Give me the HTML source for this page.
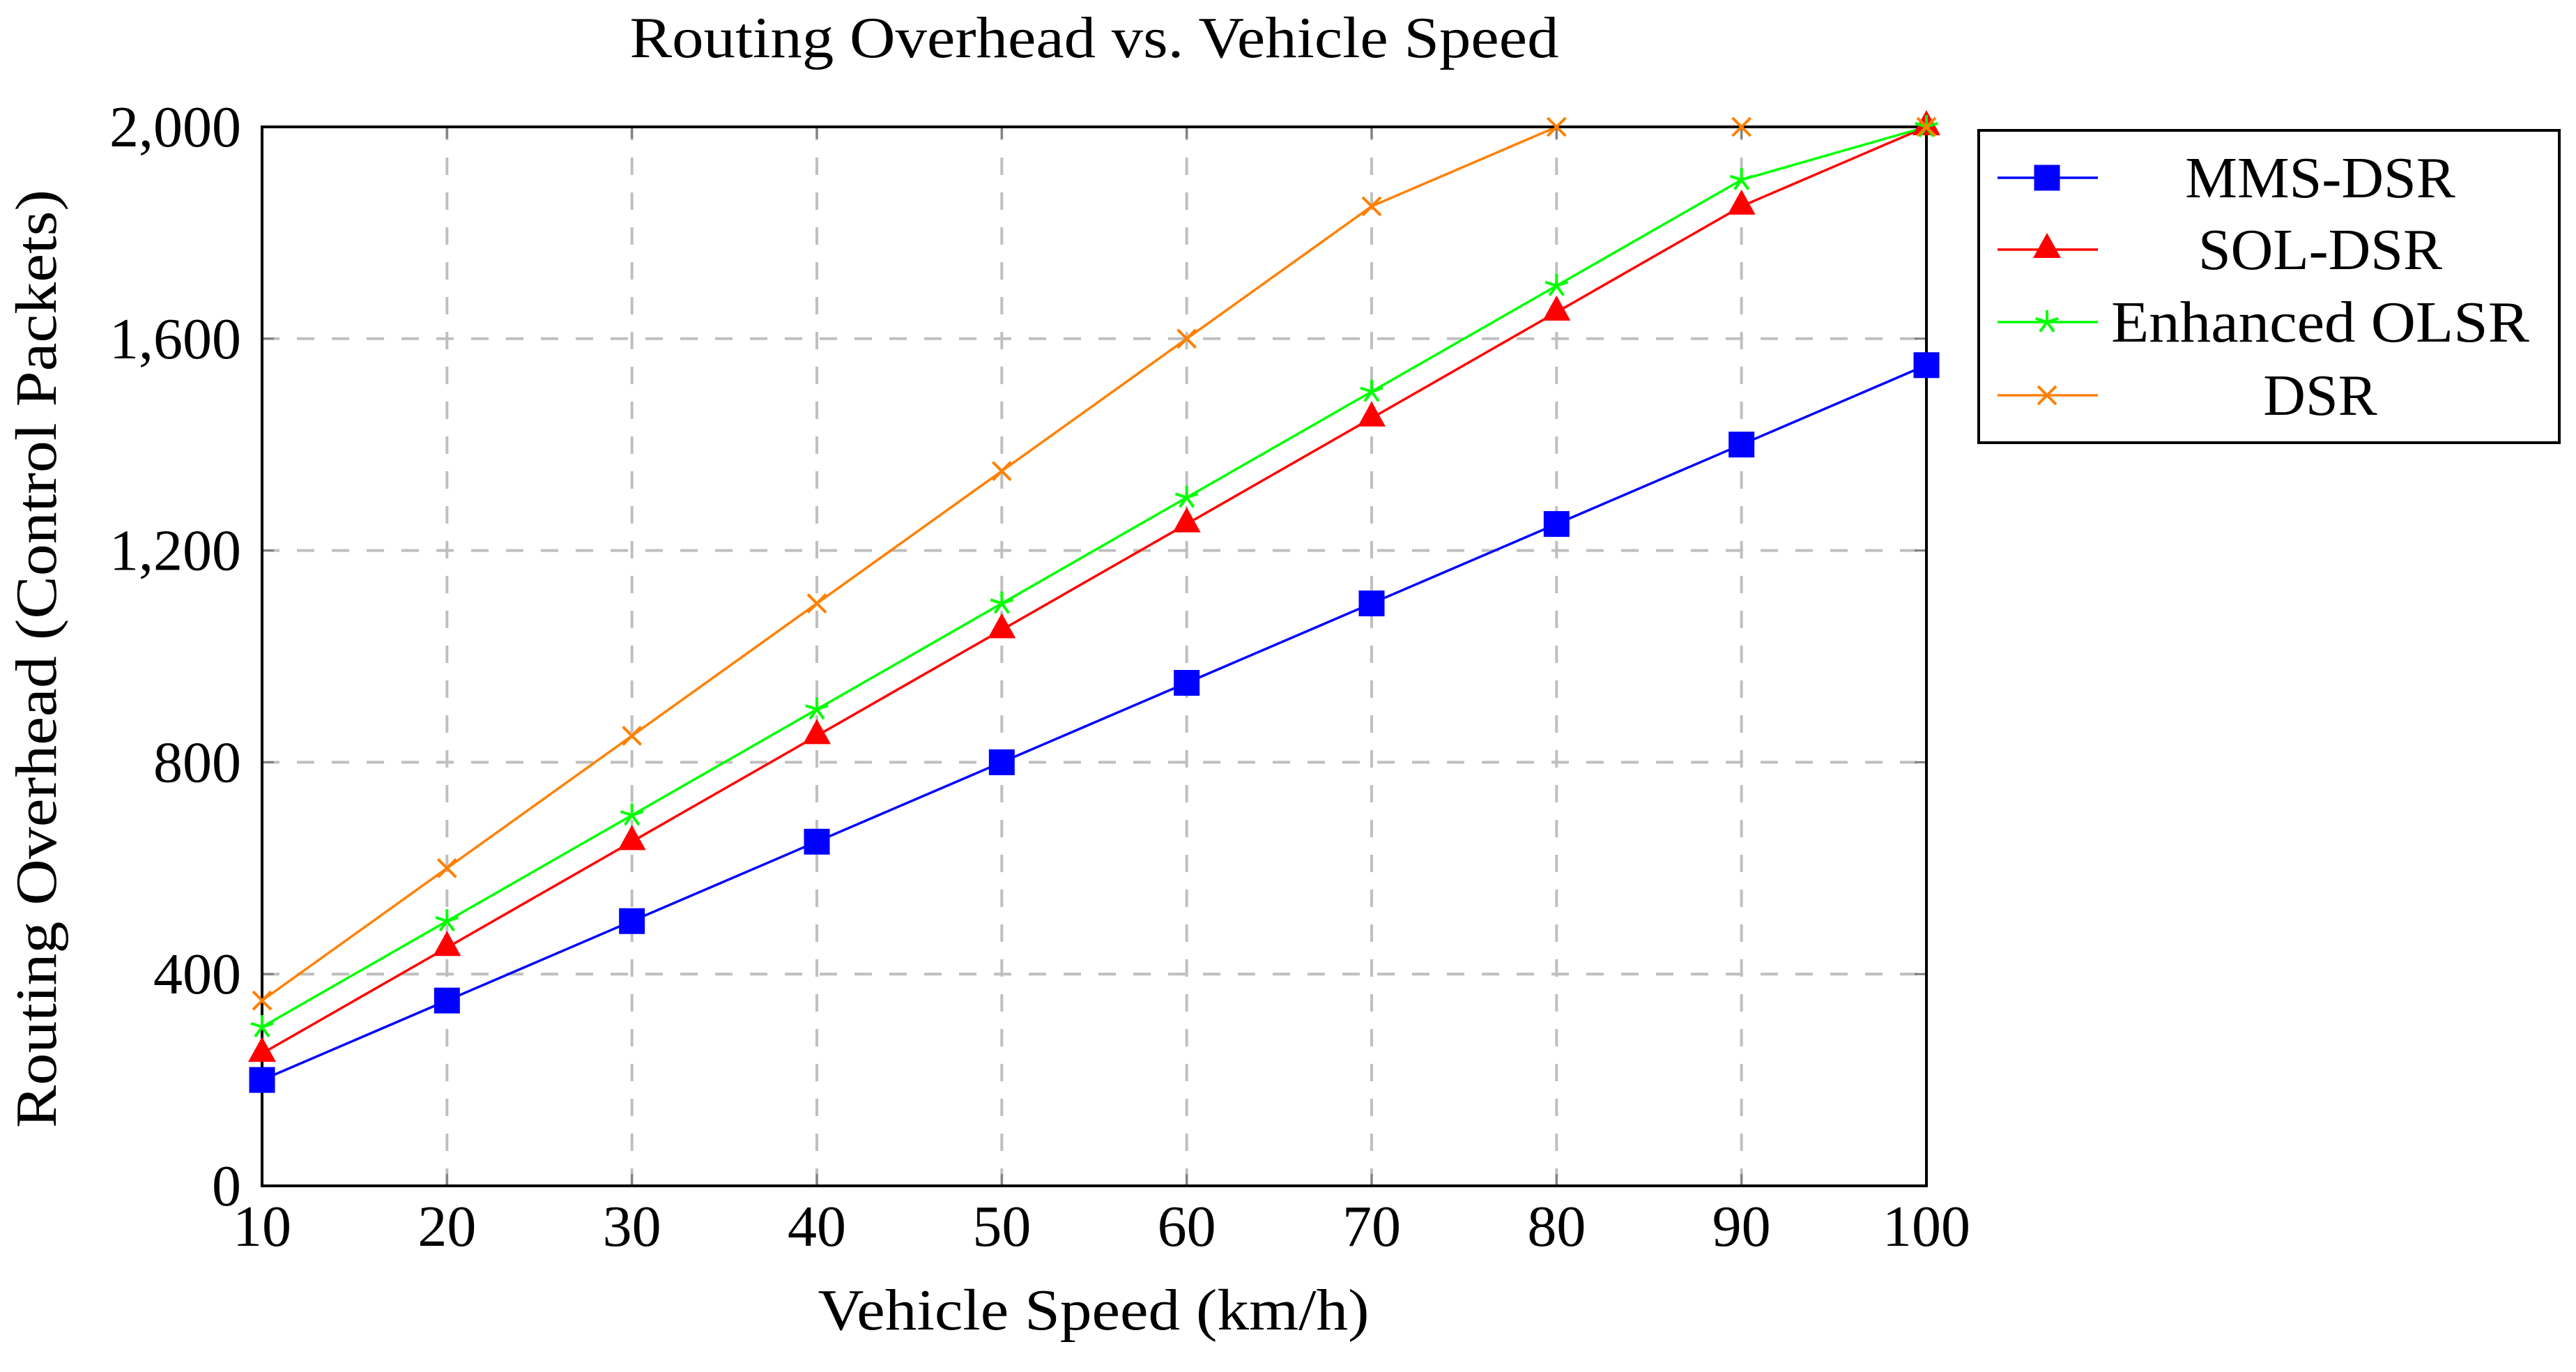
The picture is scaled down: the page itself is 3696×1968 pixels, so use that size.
<!DOCTYPE html>
<html><head><meta charset="utf-8"><style>
html,body{margin:0;padding:0;background:#fff;}
svg{display:block;}
text{font-family:"Liberation Serif",serif;fill:#000;}
</style></head><body>
<svg id="chart" width="3696" height="1968" viewBox="0 0 3696 1968" xmlns="http://www.w3.org/2000/svg">
<text x="1570" y="82" font-size="84" text-anchor="middle" textLength="1333" lengthAdjust="spacingAndGlyphs">Routing Overhead vs. Vehicle Speed</text>
<text x="1569" y="1907" font-size="84" text-anchor="middle" textLength="791" lengthAdjust="spacingAndGlyphs">Vehicle Speed (km/h)</text>
<text transform="translate(80,945) rotate(-90)" x="0" y="0" font-size="84" text-anchor="middle" textLength="1346" lengthAdjust="spacingAndGlyphs">Routing Overhead (Control Packets)</text>
<g id="grid"></g>
<g id="ticks"></g>
<g id="series"></g>
<rect x="376" y="182" width="2388" height="1519" fill="none" stroke="#000" stroke-width="4"/>
<g id="markers"></g>
<g id="legend">
<rect x="2839" y="187" width="833" height="448" fill="#fff" stroke="#000" stroke-width="4"/>
</g>
</svg>
<script>
const categories = [10,20,30,40,50,60,70,80,90,100];
const mmsDsr = [200,350,500,650,800,950,1100,1250,1400,1550];
const solDsr = [250,450,650,850,1050,1250,1450,1650,1850,2000];
const enhancedOlsr = [300,500,700,900,1100,1300,1500,1700,1900,2000];
const dsr = [350,600,850,1100,1350,1600,1850,2000,2000,2000];
const seriesNames = ["MMS-DSR","SOL-DSR","Enhanced OLSR","DSR"];
const xTicks = [10,20,30,40,50,60,70,80,90,100];
const yTicks = [0,400,800,1200,1600,2000];
const yTickLabels = ["0","400","800","1,200","1,600","2,000"];

const NS="http://www.w3.org/2000/svg";
const X0=376,X1=2764,Y0=1701,Y1=182;
function xs(v){return X0+(v-10)/(100-10)*(X1-X0);}
function ys(v){return Y0-(v/2000)*(Y0-Y1);}
function mk(tag,attrs,parent){const e=document.createElementNS(NS,tag);for(const k in attrs)e.setAttribute(k,attrs[k]);parent.appendChild(e);return e;}

const grid=document.getElementById('grid'), ticks=document.getElementById('ticks');
xTicks.forEach((t,i)=>{
  const x=xs(t);
  const g=mk('line',{x1:x,x2:x,y1:Y0,y2:Y1,stroke:'#bfbfbf','stroke-width':4,'stroke-dasharray':'25 25'},grid);
  
  
  const tk=mk('line',{x1:x,x2:x,y1:Y0,y2:Y0-17,stroke:'#808080','stroke-width':3},ticks);
  
  
  const tk2=mk('line',{x1:x,x2:x,y1:Y1,y2:Y1+17,stroke:'#808080','stroke-width':3},ticks);
  
  
  const lb=mk('text',{x:x,y:1787,'font-size':84,'text-anchor':'middle'},ticks);
  lb.textContent=String(t);
  
  
});
yTicks.forEach((t,i)=>{
  const y=ys(t);
  const g=mk('line',{x1:X0,x2:X1,y1:y,y2:y,stroke:'#bfbfbf','stroke-width':4,'stroke-dasharray':'25 25'},grid);
  
  
  const tk=mk('line',{x1:X0,x2:X0+17,y1:y,y2:y,stroke:'#808080','stroke-width':3},ticks);
  
  
  const tk2=mk('line',{x1:X1,x2:X1-17,y1:y,y2:y,stroke:'#808080','stroke-width':3},ticks);
  
  
  const lb=mk('text',{x:346,y:y+28,'font-size':84,'text-anchor':'end'},ticks);
  lb.textContent=yTickLabels[i];
  
  
});

const colors=['#0000ff','#ff0000','#00ff00','#ff8000'];
const shapes=['square','triangle','star','cross'];
const allSeries=[mmsDsr,solDsr,enhancedOlsr,dsr];

function marker(shape,x,y,color,parent){
  let e;
  if(shape==='square'){
    e=mk('rect',{x:x-18.5,y:y-18.5,width:37,height:37,fill:color},parent);
  } else if(shape==='triangle'){
    const r=20;
    e=mk('polygon',{points:`${x},${y-r*1.2} ${x+r*1.0},${y+r*0.6} ${x-r*1.0},${y+r*0.6}`,fill:color},parent);
  } else if(shape==='star'){
    let d='';const r=17;
    for(let k=0;k<3;k++){const a=Math.PI/2+k*Math.PI/3*2;}
    const angs=[90,90+72,90+144,90+216,90+288];
    angs.forEach(a=>{const rad=a*Math.PI/180;d+=`M${x},${y} L${x+r*Math.cos(rad)},${y-r*Math.sin(rad)} `;});
    e=mk('path',{d:d,stroke:color,'stroke-width':4,fill:'none'},parent);
  } else {
    const r=13;
    e=mk('path',{d:`M${x-r},${y-r} L${x+r},${y+r} M${x-r},${y+r} L${x+r},${y-r}`,stroke:color,'stroke-width':4,fill:'none'},parent);
  }
  return e;
}

const sg=document.getElementById('series'), mg=document.getElementById('markers');
allSeries.forEach((vals,si)=>{
  const pts=vals.map((v,i)=>xs(categories[i])+','+ys(v)).join(' ');
  const pl=mk('polyline',{points:pts,fill:'none',stroke:colors[si],'stroke-width':3.5},sg);
  
  
  vals.forEach((v,i)=>{
    const m=marker(shapes[si],xs(categories[i]),ys(v),colors[si],mg);
    
    
  });
});

const lg=document.getElementById('legend');
const rowY=[255,358,462,567];
const legLen=[null,null,null,null];
seriesNames.forEach((n,si)=>{
  const y=rowY[si];
  const g=mk('g',{},lg);
  
  
  mk('line',{x1:2866,x2:3010,y1:y,y2:y,stroke:colors[si],'stroke-width':3.5},g);
  marker(shapes[si],2937,y,colors[si],g);
  const t=mk('text',{x:3329,y:y+28,'font-size':84,'text-anchor':'middle'},g);
  t.textContent=n;
  if(si===2){t.setAttribute('textLength','600');t.setAttribute('lengthAdjust','spacingAndGlyphs');}
});
</script>
</body></html>
